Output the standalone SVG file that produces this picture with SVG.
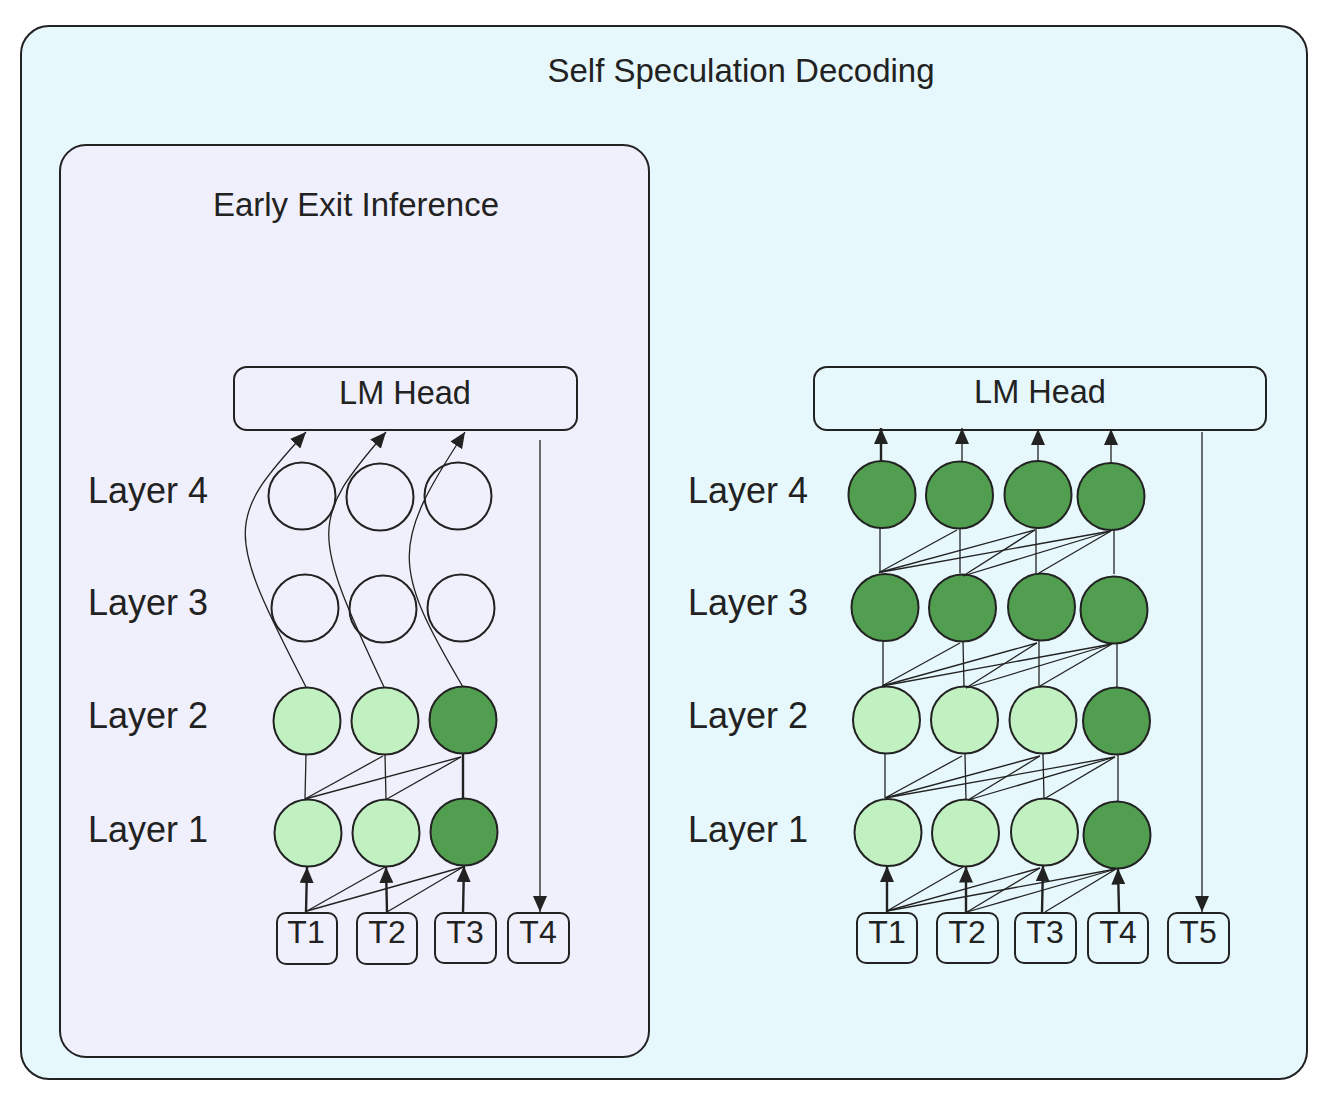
<svg xmlns="http://www.w3.org/2000/svg" width="1338" height="1120" viewBox="0 0 1338 1120">
<style>
text{font-family:"Liberation Sans",Arial,Helvetica,sans-serif;fill:#222}
.t32{font-size:33px}
.lm{font-size:32.5px}
.lbl{font-size:36px}
.tok{font-size:32px;text-anchor:middle}
.box{fill:none;stroke:#222;stroke-width:2}
.n{stroke:#222;stroke-width:2}
.light{fill:#c1f0c1}
.dark{fill:#529e50}
.empty{fill:none}
.c{stroke:#222;stroke-width:1.3;fill:none}
.ct{stroke:#222;stroke-width:2.4;fill:none}
</style>
<defs>
<marker id="ah" viewBox="0 0 16 14" refX="16" refY="7" markerWidth="16" markerHeight="14" markerUnits="userSpaceOnUse" orient="auto">
<path d="M0,0 L16,7 L0,14 z" fill="#222"/>
</marker>
</defs>
<g id="outer">
<rect x="21" y="26" width="1286" height="1053" rx="28" fill="#e7f8fc" stroke="#222" stroke-width="2"/>
<text class="t32" x="741" y="82" text-anchor="middle">Self Speculation Decoding</text>
</g>
<g id="early-exit">
<rect x="60" y="145" width="589" height="912" rx="26" fill="#f0f0fc" stroke="#222" stroke-width="2"/>
<text class="t32" x="356" y="216" text-anchor="middle">Early Exit Inference</text>
</g>
<g id="labels-left">
<text class="lbl" x="88" y="503">Layer 4</text>
<text class="lbl" x="88" y="615">Layer 3</text>
<text class="lbl" x="88" y="728">Layer 2</text>
<text class="lbl" x="88" y="842">Layer 1</text>
</g>
<g id="labels-right">
<text class="lbl" x="688" y="503">Layer 4</text>
<text class="lbl" x="688" y="615">Layer 3</text>
<text class="lbl" x="688" y="728">Layer 2</text>
<text class="lbl" x="688" y="842">Layer 1</text>
</g>
<g id="lmhead-left">
<rect class="box" x="234" y="367" width="343" height="63" rx="13"/>
<text class="lm" x="405" y="404" text-anchor="middle">LM Head</text>
</g>
<g id="lmhead-right">
<rect class="box" x="814" y="367" width="452" height="63" rx="13"/>
<text class="lm" x="1040" y="403" text-anchor="middle">LM Head</text>
</g>
<g id="left-nodes">
<circle class="n empty" cx="302" cy="496" r="33.5"/>
<circle class="n empty" cx="380" cy="497" r="33.5"/>
<circle class="n empty" cx="458" cy="496" r="33.5"/>
<circle class="n empty" cx="305" cy="608" r="33.5"/>
<circle class="n empty" cx="383" cy="609" r="33.5"/>
<circle class="n empty" cx="461" cy="608" r="33.5"/>
<circle class="n light" cx="307" cy="721" r="33.5"/>
<circle class="n light" cx="385" cy="721" r="33.5"/>
<circle class="n dark" cx="463" cy="720" r="33.5"/>
<circle class="n light" cx="308" cy="833" r="33.5"/>
<circle class="n light" cx="386" cy="833" r="33.5"/>
<circle class="n dark" cx="464" cy="832" r="33.5"/>
</g>
<g id="left-tokens">
<g id="lt1"><rect class="box" x="277" y="913" width="60" height="51" rx="9"/><text class="tok" x="306" y="943">T1</text></g>
<g id="lt2"><rect class="box" x="357" y="913" width="60" height="51" rx="9"/><text class="tok" x="387" y="943">T2</text></g>
<g id="lt3"><rect class="box" x="435" y="913" width="61" height="50" rx="9"/><text class="tok" x="465" y="943">T3</text></g>
<g id="lt4"><rect class="box" x="508" y="913" width="61" height="50" rx="9"/><text class="tok" x="538" y="943">T4</text></g>
</g>
<g id="right-nodes">
<circle class="n dark" cx="882" cy="494.5" r="33.5"/>
<circle class="n dark" cx="959.5" cy="495" r="33.5"/>
<circle class="n dark" cx="1038" cy="494.5" r="33.5"/>
<circle class="n dark" cx="1111" cy="496.5" r="33.5"/>
<circle class="n dark" cx="885" cy="607.5" r="33.5"/>
<circle class="n dark" cx="962.5" cy="608" r="33.5"/>
<circle class="n dark" cx="1041.5" cy="607" r="33.5"/>
<circle class="n dark" cx="1114" cy="610" r="33.5"/>
<circle class="n light" cx="886.5" cy="720" r="33.5"/>
<circle class="n light" cx="964.5" cy="720" r="33.5"/>
<circle class="n light" cx="1043" cy="720" r="33.5"/>
<circle class="n dark" cx="1116.5" cy="721" r="33.5"/>
<circle class="n light" cx="888" cy="832.5" r="33.5"/>
<circle class="n light" cx="965.5" cy="833" r="33.5"/>
<circle class="n light" cx="1044.5" cy="832" r="33.5"/>
<circle class="n dark" cx="1117" cy="835" r="33.5"/>
</g>
<g id="right-tokens">
<g id="rt1"><rect class="box" x="857" y="913" width="60" height="50" rx="9"/><text class="tok" x="887" y="943">T1</text></g>
<g id="rt2"><rect class="box" x="937" y="913" width="61" height="50" rx="9"/><text class="tok" x="967" y="943">T2</text></g>
<g id="rt3"><rect class="box" x="1015" y="913" width="61" height="50" rx="9"/><text class="tok" x="1045" y="943">T3</text></g>
<g id="rt4"><rect class="box" x="1088" y="913" width="60" height="50" rx="9"/><text class="tok" x="1118" y="943">T4</text></g>
<g id="rt5"><rect class="box" x="1168" y="913" width="61" height="50" rx="9"/><text class="tok" x="1198" y="943">T5</text></g>
</g>
<g id="connectors">
<line class="ct" x1="306" y1="912" x2="307" y2="867" marker-end="url(#ah)"/>
<line class="ct" x1="387" y1="912" x2="386" y2="867" marker-end="url(#ah)"/>
<line class="ct" x1="463" y1="912" x2="464" y2="866" marker-end="url(#ah)"/>
<line class="c" x1="307" y1="911" x2="385" y2="867"/>
<line class="c" x1="307" y1="911" x2="463" y2="867"/>
<line class="c" x1="387" y1="912" x2="463" y2="867"/>
<line class="c" x1="305" y1="799" x2="306" y2="754.5"/>
<line class="c" x1="386" y1="799.5" x2="385" y2="754.5"/>
<line class="ct" x1="463" y1="798.5" x2="463" y2="753.5"/>
<line class="c" x1="305" y1="799" x2="383" y2="756"/>
<line class="c" x1="305" y1="799" x2="461" y2="757"/>
<line class="c" x1="386" y1="799.5" x2="461" y2="757"/>
<path class="c" d="M306,687 C225,530 225,520 306,432" marker-end="url(#ah)"/>
<path class="c" d="M384,687 C310,530 310,520 386,432" marker-end="url(#ah)"/>
<path class="c" d="M463,687 C391,565 391,545 465,432" marker-end="url(#ah)"/>
<line class="c" x1="540" y1="440" x2="540" y2="912" marker-end="url(#ah)"/>
<line class="ct" x1="887" y1="912" x2="887" y2="866" marker-end="url(#ah)"/>
<line class="ct" x1="966" y1="912" x2="966" y2="866.5" marker-end="url(#ah)"/>
<line class="ct" x1="1042" y1="912" x2="1043" y2="865.5" marker-end="url(#ah)"/>
<line class="ct" x1="1119" y1="912" x2="1118" y2="868.5" marker-end="url(#ah)"/>
<line class="c" x1="887" y1="911" x2="963" y2="867"/>
<line class="c" x1="887" y1="911" x2="1040" y2="868"/>
<line class="c" x1="887" y1="911" x2="1116" y2="869"/>
<line class="c" x1="967" y1="912" x2="1040" y2="868"/>
<line class="c" x1="967" y1="912" x2="1116" y2="869"/>
<line class="c" x1="1045" y1="912" x2="1116" y2="869"/>
<line class="c" x1="885" y1="798" x2="885" y2="754"/>
<line class="c" x1="966" y1="799.5" x2="965" y2="754"/>
<line class="c" x1="1044" y1="798.5" x2="1043" y2="754"/>
<line class="c" x1="1118" y1="801" x2="1118" y2="755"/>
<line class="c" x1="885" y1="798" x2="962" y2="756"/>
<line class="c" x1="885" y1="798" x2="1040" y2="756"/>
<line class="c" x1="885" y1="798" x2="1115" y2="757"/>
<line class="c" x1="968" y1="800" x2="1040" y2="756"/>
<line class="c" x1="968" y1="800" x2="1115" y2="757"/>
<line class="c" x1="1044" y1="799" x2="1115" y2="757"/>
<line class="c" x1="883" y1="686" x2="883" y2="641"/>
<line class="c" x1="964" y1="686.5" x2="963" y2="641.5"/>
<line class="c" x1="1039" y1="686" x2="1039" y2="640.5"/>
<line class="c" x1="1117" y1="687.5" x2="1117" y2="643.5"/>
<line class="c" x1="882" y1="686" x2="960" y2="643"/>
<line class="c" x1="882" y1="686" x2="1037" y2="643"/>
<line class="c" x1="882" y1="686" x2="1112" y2="644"/>
<line class="c" x1="966" y1="688" x2="1037" y2="643"/>
<line class="c" x1="966" y1="688" x2="1112" y2="644"/>
<line class="c" x1="1040" y1="686" x2="1112" y2="644"/>
<line class="c" x1="880" y1="572" x2="880" y2="528"/>
<line class="c" x1="960" y1="573.5" x2="960" y2="528.5"/>
<line class="c" x1="1036" y1="573" x2="1036" y2="528"/>
<line class="c" x1="1114" y1="574" x2="1114" y2="530"/>
<line class="c" x1="879" y1="572.5" x2="957" y2="530"/>
<line class="c" x1="879" y1="572.5" x2="1035" y2="530"/>
<line class="c" x1="879" y1="572.5" x2="1111" y2="531"/>
<line class="c" x1="963" y1="576" x2="1035" y2="530"/>
<line class="c" x1="963" y1="576" x2="1111" y2="531"/>
<line class="c" x1="1039" y1="573" x2="1111" y2="531"/>
<line class="ct" x1="881" y1="461" x2="881" y2="428" marker-end="url(#ah)"/>
<line class="c" x1="962" y1="461.5" x2="962" y2="428" marker-end="url(#ah)"/>
<line class="c" x1="1038" y1="461" x2="1038" y2="429" marker-end="url(#ah)"/>
<line class="c" x1="1111" y1="463" x2="1111" y2="429" marker-end="url(#ah)"/>
<line class="c" x1="1202" y1="432" x2="1202" y2="912" marker-end="url(#ah)"/>
</g>
</svg>
